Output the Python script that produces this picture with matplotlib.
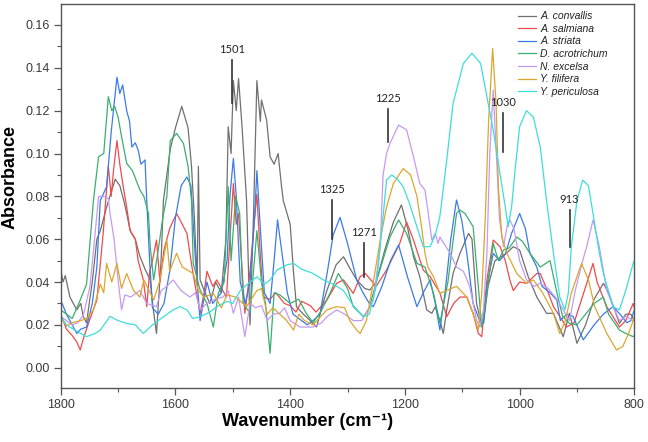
import matplotlib
matplotlib.use("Agg")
import matplotlib.pyplot as plt
from matplotlib.ticker import MultipleLocator

plt.rcParams["font.family"] = ["Liberation Sans", "DejaVu Sans"]

# ---- data (wavenumber cm-1, absorbance) ----
wn_conv = [1800, 1796, 1792, 1784, 1772, 1765, 1761, 1755, 1745, 1737, 1731, 1720, 1712, 1705, 1697, 1690,
           1685, 1679, 1670, 1662, 1653, 1644, 1639, 1633, 1625, 1621, 1609, 1600, 1589, 1578, 1572, 1567,
           1562, 1560, 1557, 1550, 1540, 1530, 1520, 1512, 1508, 1503, 1499, 1494, 1490, 1484, 1476, 1470,
           1464, 1458, 1452, 1450, 1441, 1435, 1428, 1421, 1415, 1412, 1400, 1394, 1389, 1377, 1365, 1354,
           1345, 1336, 1320, 1307, 1295, 1284, 1270, 1261, 1250, 1235, 1220, 1206, 1195, 1185, 1174, 1162,
           1153, 1147, 1139, 1133, 1127, 1116, 1104, 1089, 1083, 1075, 1068, 1063, 1055, 1043, 1025, 1011,
           1000, 985, 970, 953, 941, 924, 913, 900, 885, 870, 854, 845, 826, 815, 806, 800]
abs_conv = [0.046, 0.040, 0.043, 0.033, 0.027, 0.030, 0.024, 0.021, 0.040, 0.060, 0.064, 0.075, 0.082, 0.088, 0.085, 0.078,
            0.072, 0.064, 0.060, 0.052, 0.046, 0.041, 0.028, 0.016, 0.050, 0.078, 0.102, 0.112, 0.122, 0.112, 0.094, 0.070,
            0.040, 0.094, 0.041, 0.036, 0.030, 0.040, 0.035, 0.060, 0.1125, 0.100, 0.134, 0.120, 0.135, 0.113, 0.078, 0.020,
            0.070, 0.134, 0.115, 0.125, 0.1156, 0.0985, 0.095, 0.100, 0.0845, 0.078, 0.067, 0.044, 0.0285, 0.025, 0.022, 0.019,
            0.028, 0.036, 0.048, 0.0518, 0.046, 0.041, 0.037, 0.0363, 0.040, 0.055, 0.068, 0.076, 0.065, 0.0518, 0.0425, 0.027,
            0.0254, 0.0285, 0.022, 0.016, 0.027, 0.044, 0.0534, 0.0627, 0.060, 0.030, 0.022, 0.0207, 0.038, 0.050, 0.053, 0.0565,
            0.055, 0.0425, 0.033, 0.0254, 0.0254, 0.0145, 0.0254, 0.0114, 0.020, 0.032, 0.0394, 0.035, 0.0207, 0.025, 0.025, 0.022]

wn_salm = [1800, 1790, 1780, 1772, 1766, 1760, 1750, 1737, 1726, 1717, 1712, 1708, 1702, 1697, 1691, 1685,
           1679, 1670, 1665, 1656, 1650, 1645, 1641, 1633, 1627, 1620, 1610, 1598, 1590, 1580, 1570, 1557,
           1550, 1545, 1535, 1528, 1511, 1505, 1499, 1494, 1490, 1479, 1470, 1462, 1458, 1453, 1447, 1435,
           1425, 1410, 1400, 1390, 1380, 1365, 1355, 1336, 1319, 1307, 1290, 1278, 1269, 1250, 1232, 1209,
           1197, 1185, 1168, 1156, 1139, 1127, 1115, 1104, 1092, 1081, 1072, 1066, 1057, 1046, 1034, 1025,
           1017, 1011, 1000, 988, 970, 964, 950, 941, 918, 905, 883, 872, 865, 848, 826, 815, 802, 800]
abs_salm = [0.025, 0.018, 0.015, 0.012, 0.0083, 0.014, 0.022, 0.0316, 0.0627, 0.094, 0.080, 0.092, 0.106, 0.095, 0.0845, 0.075,
            0.064, 0.060, 0.050, 0.041, 0.0285, 0.045, 0.0487, 0.0596, 0.040, 0.055, 0.065, 0.072, 0.068, 0.0627, 0.045, 0.0254,
            0.035, 0.045, 0.038, 0.041, 0.033, 0.060, 0.086, 0.067, 0.072, 0.0254, 0.045, 0.070, 0.081, 0.0565, 0.033, 0.032,
            0.035, 0.030, 0.029, 0.026, 0.031, 0.029, 0.026, 0.0316, 0.0394, 0.041, 0.0347, 0.0425, 0.044, 0.038, 0.0456, 0.058,
            0.068, 0.0596, 0.0456, 0.0425, 0.035, 0.0238, 0.030, 0.033, 0.033, 0.0254, 0.016, 0.0145, 0.041, 0.0596, 0.0565, 0.050,
            0.041, 0.036, 0.040, 0.0394, 0.044, 0.044, 0.035, 0.0285, 0.019, 0.021, 0.0394, 0.0487, 0.040, 0.0285, 0.019, 0.022, 0.030, 0.028]

wn_stri = [1800, 1790, 1780, 1772, 1765, 1755, 1745, 1737, 1731, 1720, 1712, 1702, 1697, 1692, 1685, 1680,
           1676, 1670, 1665, 1660, 1653, 1650, 1645, 1640, 1630, 1620, 1610, 1600, 1590, 1580, 1573, 1565,
           1557, 1545, 1535, 1520, 1510, 1505, 1499, 1494, 1487, 1478, 1470, 1462, 1458, 1452, 1445, 1435,
           1428, 1422, 1415, 1405, 1395, 1380, 1370, 1360, 1348, 1335, 1325, 1313, 1300, 1284, 1273, 1262,
           1255, 1240, 1225, 1211, 1195, 1179, 1168, 1156, 1147, 1139, 1130, 1120, 1110, 1101, 1092, 1081,
           1068, 1063, 1057, 1046, 1035, 1025, 1014, 1000, 990, 982, 970, 961, 947, 935, 929, 918,
           907, 889, 870, 854, 837, 825, 813, 806, 800]
abs_stri = [0.0316, 0.025, 0.020, 0.016, 0.018, 0.019, 0.030, 0.047, 0.078, 0.0845, 0.110, 0.1356, 0.128, 0.132, 0.120, 0.115,
            0.103, 0.105, 0.1016, 0.095, 0.097, 0.078, 0.050, 0.028, 0.025, 0.030, 0.045, 0.070, 0.085, 0.089, 0.085, 0.050,
            0.022, 0.040, 0.030, 0.035, 0.050, 0.080, 0.0977, 0.080, 0.040, 0.030, 0.040, 0.070, 0.092, 0.065, 0.035, 0.030,
            0.050, 0.069, 0.055, 0.035, 0.025, 0.022, 0.020, 0.022, 0.025, 0.045, 0.062, 0.0702, 0.058, 0.041, 0.035, 0.030,
            0.0285, 0.038, 0.050, 0.0573, 0.042, 0.0285, 0.035, 0.041, 0.030, 0.0176, 0.035, 0.060, 0.0783, 0.069, 0.0534, 0.030,
            0.0207, 0.0207, 0.038, 0.0534, 0.050, 0.053, 0.0627, 0.072, 0.065, 0.0534, 0.047, 0.038, 0.035, 0.0316, 0.022, 0.025,
            0.024, 0.013, 0.020, 0.025, 0.0285, 0.025, 0.021, 0.022, 0.027]

wn_acro = [1800, 1790, 1780, 1766, 1755, 1743, 1734, 1725, 1717, 1711, 1706, 1700, 1694, 1685, 1675, 1662,
           1655, 1647, 1644, 1638, 1630, 1622, 1615, 1609, 1598, 1586, 1578, 1572, 1569, 1557, 1545, 1534,
           1525, 1515, 1508, 1503, 1495, 1488, 1482, 1470, 1458, 1450, 1443, 1435, 1428, 1418, 1400, 1385,
           1372, 1360, 1345, 1330, 1316, 1300, 1290, 1272, 1262, 1249, 1226, 1211, 1197, 1179, 1165, 1150,
           1139, 1125, 1110, 1104, 1095, 1081, 1072, 1066, 1057, 1046, 1037, 1028, 1018, 1005, 995, 982,
           964, 947, 935, 925, 913, 900, 885, 870, 854, 845, 826, 815, 802, 800]
abs_acro = [0.027, 0.025, 0.023, 0.0316, 0.039, 0.078, 0.0985, 0.100, 0.1265, 0.120, 0.122, 0.117, 0.108, 0.0954, 0.092, 0.083,
            0.080, 0.072, 0.0565, 0.041, 0.055, 0.070, 0.080, 0.106, 0.1094, 0.1047, 0.094, 0.078, 0.0487, 0.0363, 0.030, 0.019,
            0.035, 0.040, 0.0845, 0.050, 0.080, 0.072, 0.030, 0.0254, 0.064, 0.040, 0.030, 0.0067, 0.035, 0.034, 0.030, 0.032,
            0.0254, 0.021, 0.027, 0.035, 0.044, 0.037, 0.0285, 0.0238, 0.028, 0.041, 0.061, 0.069, 0.0627, 0.0487, 0.047, 0.0347,
            0.0207, 0.040, 0.072, 0.0736, 0.072, 0.0658, 0.038, 0.019, 0.035, 0.058, 0.050, 0.055, 0.056, 0.061, 0.059, 0.0534,
            0.047, 0.050, 0.035, 0.024, 0.0207, 0.020, 0.025, 0.030, 0.033, 0.025, 0.0176, 0.016, 0.0145, 0.015]

wn_exce = [1800, 1790, 1780, 1770, 1760, 1749, 1740, 1734, 1725, 1717, 1714, 1707, 1700, 1694, 1688, 1678,
           1662, 1650, 1633, 1625, 1615, 1604, 1590, 1575, 1565, 1557, 1545, 1530, 1517, 1508, 1499, 1490,
           1479, 1470, 1460, 1450, 1440, 1430, 1418, 1410, 1400, 1383, 1360, 1345, 1336, 1319, 1305, 1290,
           1275, 1255, 1243, 1238, 1232, 1226, 1211, 1197, 1185, 1174, 1165, 1160, 1153, 1147, 1142, 1139,
           1121, 1110, 1098, 1087, 1075, 1069, 1063, 1057, 1052, 1046, 1040, 1035, 1028, 1022, 1017, 1010,
           1000, 988, 975, 964, 950, 935, 924, 913, 903, 890, 883, 872, 861, 848, 837, 826, 815, 802, 800]
abs_exce = [0.024, 0.022, 0.020, 0.021, 0.025, 0.038, 0.0627, 0.080, 0.080, 0.079, 0.072, 0.060, 0.041, 0.027, 0.034, 0.033,
            0.036, 0.030, 0.0285, 0.036, 0.038, 0.041, 0.036, 0.033, 0.035, 0.027, 0.030, 0.032, 0.033, 0.036, 0.0254, 0.033,
            0.0145, 0.030, 0.028, 0.029, 0.022, 0.025, 0.0254, 0.028, 0.022, 0.019, 0.019, 0.021, 0.0238, 0.027, 0.025, 0.022,
            0.022, 0.0316, 0.0565, 0.090, 0.100, 0.1047, 0.1133, 0.111, 0.0985, 0.086, 0.083, 0.0736, 0.0596, 0.0627, 0.058, 0.061,
            0.0534, 0.047, 0.045, 0.038, 0.022, 0.019, 0.027, 0.0534, 0.100, 0.1296, 0.097, 0.069, 0.0565, 0.0658, 0.069, 0.065,
            0.050, 0.041, 0.038, 0.0394, 0.037, 0.032, 0.027, 0.022, 0.036, 0.050, 0.0565, 0.069, 0.0565, 0.036, 0.0285, 0.022, 0.024, 0.022, 0.023]

wn_fili = [1800, 1790, 1780, 1765, 1755, 1743, 1731, 1725, 1720, 1711, 1702, 1694, 1685, 1673, 1662, 1655,
           1638, 1628, 1615, 1610, 1598, 1588, 1569, 1560, 1550, 1534, 1520, 1510, 1495, 1476, 1458, 1450,
           1440, 1430, 1406, 1394, 1385, 1375, 1360, 1350, 1336, 1319, 1305, 1296, 1284, 1278, 1267, 1255,
           1243, 1232, 1220, 1203, 1190, 1179, 1171, 1165, 1160, 1150, 1139, 1128, 1110, 1092, 1081, 1072,
           1066, 1060, 1054, 1047, 1041, 1037, 1031, 1022, 1005, 988, 976, 960, 941, 930, 920, 910,
           892, 880, 869, 848, 831, 820, 810, 802, 800]
abs_fili = [0.0235, 0.0195, 0.021, 0.022, 0.023, 0.027, 0.039, 0.035, 0.0487, 0.040, 0.0487, 0.037, 0.044, 0.036, 0.033, 0.041,
            0.0316, 0.040, 0.0596, 0.045, 0.0534, 0.047, 0.044, 0.036, 0.033, 0.0347, 0.028, 0.034, 0.033, 0.0285, 0.036, 0.037,
            0.025, 0.028, 0.022, 0.0176, 0.025, 0.022, 0.020, 0.023, 0.027, 0.0285, 0.028, 0.022, 0.0176, 0.016, 0.022, 0.040,
            0.0596, 0.075, 0.086, 0.093, 0.090, 0.080, 0.0658, 0.0534, 0.047, 0.0425, 0.0347, 0.036, 0.038, 0.033, 0.025, 0.0176,
            0.0347, 0.069, 0.1156, 0.149, 0.1234, 0.0845, 0.061, 0.0534, 0.044, 0.0394, 0.041, 0.035, 0.0254, 0.016, 0.022, 0.0347,
            0.0487, 0.041, 0.0285, 0.016, 0.0083, 0.010, 0.016, 0.022, 0.024]

wn_peri = [1800, 1790, 1778, 1765, 1755, 1740, 1731, 1714, 1700, 1685, 1670, 1656, 1640, 1625, 1604, 1592,
           1580, 1570, 1557, 1540, 1528, 1510, 1500, 1487, 1470, 1458, 1445, 1435, 1423, 1406, 1394, 1380,
           1360, 1342, 1325, 1307, 1290, 1272, 1262, 1250, 1240, 1232, 1223, 1213, 1203, 1192, 1179, 1168,
           1156, 1147, 1139, 1127, 1116, 1098, 1083, 1068, 1057, 1046, 1035, 1025, 1020, 1014, 1008, 1000,
           988, 976, 964, 953, 941, 930, 921, 915, 910, 900, 890, 880, 872, 862, 854, 837,
           826, 815, 802, 800]
abs_peri = [0.024, 0.020, 0.018, 0.016, 0.0145, 0.016, 0.0176, 0.024, 0.022, 0.0207, 0.020, 0.016, 0.020, 0.023, 0.027, 0.0285,
            0.027, 0.023, 0.0238, 0.026, 0.0285, 0.031, 0.030, 0.036, 0.040, 0.0425, 0.039, 0.041, 0.0456, 0.048, 0.0487, 0.046,
            0.044, 0.041, 0.039, 0.036, 0.029, 0.0238, 0.025, 0.038, 0.065, 0.0876, 0.090, 0.088, 0.0845, 0.0767, 0.0658, 0.0565,
            0.0565, 0.062, 0.0705, 0.097, 0.1234, 0.142, 0.1468, 0.142, 0.1265, 0.111, 0.092, 0.075, 0.0658, 0.075, 0.092, 0.1125,
            0.120, 0.117, 0.103, 0.078, 0.0534, 0.033, 0.027, 0.035, 0.056, 0.078, 0.0876, 0.085, 0.072, 0.055, 0.044, 0.0285,
            0.027, 0.036, 0.0487, 0.050]

series_names = ["A. convallis", "A. salmiana", "A. striata", "D. acrotrichum",
                "N. excelsa", "Y. filifera", "Y. periculosa"]
series_colors = ["#707070", "#ee4b4b", "#3a7be8", "#3cae6e", "#c59af2", "#dca62e", "#3fdcdc"]

# marked bands: label, wavenumber, line bottom, line top
peak_labels = ["1501", "1325", "1271", "1225", "1030", "913"]
peak_wn = [1502, 1327, 1271, 1230, 1029, 913]
peak_lo = [0.1234, 0.0599, 0.0425, 0.1055, 0.1008, 0.0565]
peak_hi = [0.1437, 0.0783, 0.0581, 0.1206, 0.1188, 0.0736]

fig = plt.figure(figsize=(6.48, 4.42), dpi=100)
ax = fig.add_axes([0.0937, 0.1215, 0.8852, 0.8695])

spectra = [(wn_conv, abs_conv), (wn_salm, abs_salm), (wn_stri, abs_stri), (wn_acro, abs_acro),
           (wn_exce, abs_exce), (wn_fili, abs_fili), (wn_peri, abs_peri)]
for (wn, ab), name, col in zip(spectra, series_names, series_colors):
    ax.plot(wn, ab, color=col, lw=0.9, label=name)

for lab, w, lo, hi in zip(peak_labels, peak_wn, peak_lo, peak_hi):
    ax.plot([w, w], [lo, hi], color="#333333", lw=1.2)
    ax.text(w, hi + 0.0025, lab, ha="center", va="bottom", fontsize=8,
            family=["Lato", "DejaVu Sans"], color="#222222")

ax.set_xlim(1800, 800)
ax.set_ylim(-0.0096, 0.1698)
ax.xaxis.set_major_locator(MultipleLocator(200))
ax.xaxis.set_minor_locator(MultipleLocator(100))
ax.yaxis.set_major_locator(MultipleLocator(0.02))
ax.yaxis.set_minor_locator(MultipleLocator(0.01))
ax.yaxis.set_major_formatter(matplotlib.ticker.FormatStrFormatter("%.2f"))
ax.tick_params(which="major", direction="out", length=5, width=0.9, color="#555555",
               labelsize=9, labelcolor="#3a3a3a", pad=3)
ax.tick_params(which="minor", direction="out", length=3, width=0.8, color="#555555")
for sp in ax.spines.values():
    sp.set_color("#555555")
    sp.set_linewidth(1.0)

fig.text(308 / 648, 1 - 421 / 442, "Wavenumber (cm\u207b\u00b9)", ha="center", va="center",
         fontsize=13, fontweight="bold")
fig.text(10 / 648, 1 - 177 / 442, "Absorbance", ha="center", va="center", rotation=90,
         fontsize=13, fontweight="bold")

leg = ax.legend(loc="upper left", bbox_to_anchor=(513 / 648, 1 - 6 / 442),
                bbox_transform=fig.transFigure, frameon=False, fontsize=7.5,
                handlelength=1.7, handletextpad=0.4, labelspacing=0.25, borderpad=0)
for t in leg.get_texts():
    t.set_fontstyle("italic")
    t.set_color("#222222")

fig.savefig("out.png", dpi=100)
